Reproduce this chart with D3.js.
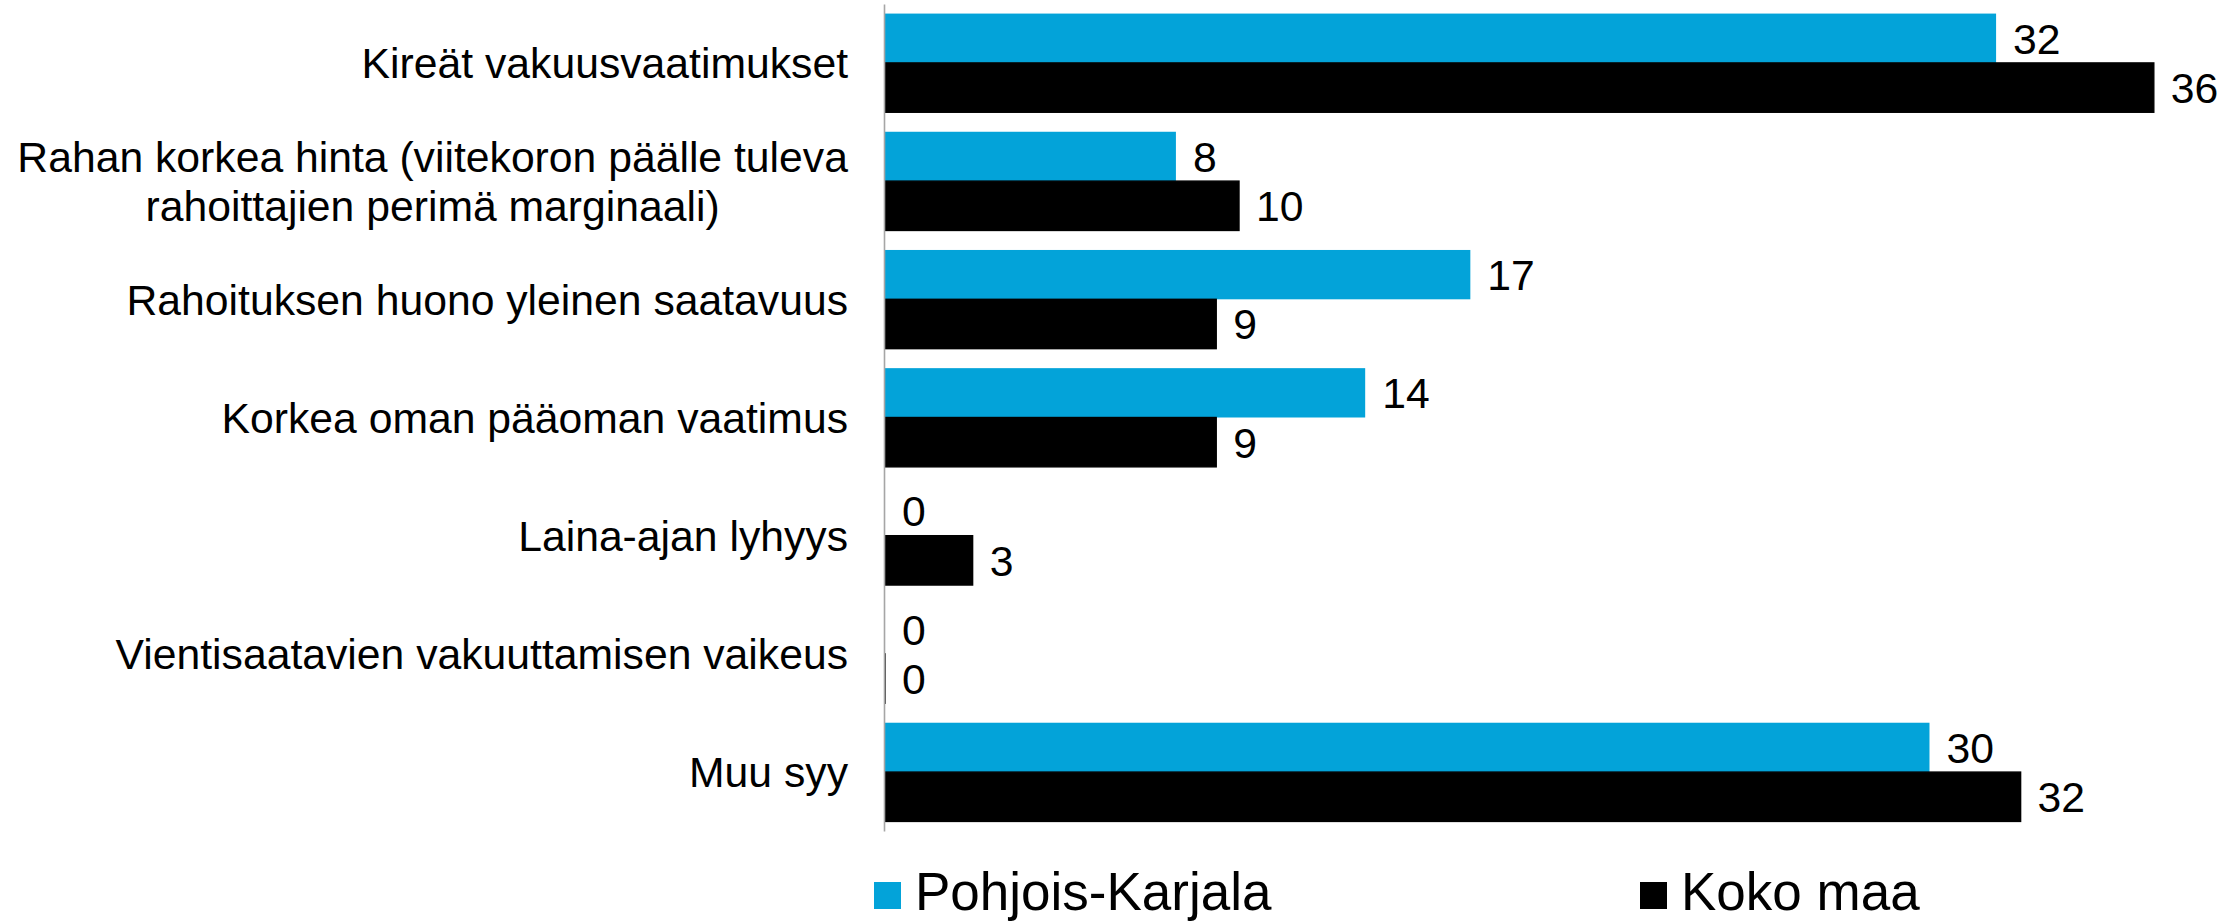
<!DOCTYPE html>
<html>
<head>
<meta charset="utf-8">
<script src="https://cdn.jsdelivr.net/npm/d3@7"></script>
<style>
  html, body { margin: 0; padding: 0; background: #fff; }
  svg { display: block; font-family: "Liberation Sans", Arial, sans-serif; }
</style>
</head>
<body>
<div id="chart"></div>
<script>
// categories, top to bottom (\n = line break in the label)
const categories = [
    "Kireät vakuusvaatimukset",
    "Rahan korkea hinta (viitekoron päälle tuleva\nrahoittajien perimä marginaali)",
    "Rahoituksen huono yleinen saatavuus",
    "Korkea oman pääoman vaatimus",
    "Laina-ajan lyhyys",
    "Vientisaatavien vakuuttamisen vaikeus",
    "Muu syy"
];
const seriesNames = ["Pohjois-Karjala", "Koko maa"];
// shares (%); labels are the rounded values
const pohjoisKarjala = [31.7, 8.3, 16.7, 13.7, 0, 0, 29.8];
const kokoMaa        = [36.2, 10.1, 9.45, 9.45, 2.5, 0, 32.4];
const seriesColors   = ["#03a3d9", "#000000"];

const W = 2233, H = 923;
const axisX = 885;
const fontSize = 42.7;

const svg = d3.select("#chart").append("svg")
    .attr("width", W).attr("height", H);

const rows = categories.map((c, i) => ({
    cat: c,
    values: [pohjoisKarjala[i], kokoMaa[i]]
}));

// ==== scales ====
const x = d3.scaleLinear().domain([0, 40]).range([axisX, axisX + 40 * 35.05]);

const y = d3.scaleBand()
    .domain(categories)
    .range([4, 831])
    .paddingInner(0.165)
    .paddingOuter(0.081);

const ySub = d3.scaleBand()
    .domain(seriesNames)
    .range([0, y.bandwidth()]);

// ==== bars ====
const groups = svg.selectAll(".cat")
    .data(rows)
    .join("g")
    .attr("class", "cat")
    .attr("transform", d => `translate(0,${y(d.cat)})`);

groups.selectAll("rect")
    .data(d => d.values.map((v, k) => ({ v, k })))
    .join("rect")
    .attr("x", x(0))
    .attr("y", d => ySub(seriesNames[d.k]))
    // a zero bar of the black series still shows as a thin line
    .attr("width", d => Math.max(x(d.v) - x(0), 0.01))
    .attr("height", ySub.bandwidth())
    .attr("fill", d => seriesColors[d.k])
    .attr("stroke", d => d.k === 1 ? "#000" : "none")
    .attr("stroke-width", 1.4);

// value labels
groups.selectAll("text.val")
    .data(d => d.values.map((v, k) => ({ v, k })))
    .join("text")
    .attr("class", "val")
    .attr("x", d => x(d.v) + 17)
    .attr("y", d => ySub(seriesNames[d.k]) + ySub.bandwidth() / 2)
    .attr("dy", "0.36em")
    .attr("font-size", fontSize)
    .attr("fill", "#000")
    .text(d => Math.round(d.v));

// ==== category axis ====
const axis = svg.append("g")
    .attr("transform", `translate(${axisX - 1},0)`)
    .call(d3.axisLeft(y).tickSize(0).tickSizeOuter(0).tickPadding(36));

axis.select(".domain").attr("stroke", "#a6a6a6").attr("stroke-width", 1.6);

axis.selectAll(".tick text")
    .attr("font-size", fontSize)
    .attr("font-family", "'Liberation Sans', Arial, sans-serif")
    .attr("fill", "#000")
    .each(function(d) {
        const lines = d.split("\n");
        const t = d3.select(this).text(null).attr("dy", null);
        const lh = 49;
        lines.forEach((line, i) => {
            t.append("tspan")
                .attr("x", -36)
                .attr("y", (i - (lines.length - 1) / 2) * lh)
                .attr("dy", "0.36em")
                .text(line);
        });
        // wrapped labels: block sits right, lines are centred in it
        if (lines.length > 1) {
            const wMax = this.getBBox().width;
            t.attr("text-anchor", "middle");
            t.selectAll("tspan").attr("x", -36 - wMax / 2);
        }
    });

// ==== legend ====
const legendX = [874, 1640];
const legend = svg.selectAll(".legend")
    .data(seriesNames)
    .join("g")
    .attr("class", "legend")
    .attr("transform", (d, i) => `translate(${legendX[i]},882)`);

legend.append("rect")
    .attr("width", 27).attr("height", 27)
    .attr("fill", (d, i) => seriesColors[i]);

legend.append("text")
    .attr("x", 41)
    .attr("y", 9)
    .attr("dy", "0.36em")
    .attr("font-size", 53)
    .attr("fill", "#000")
    .text(d => d);
</script>
</body>
</html>
